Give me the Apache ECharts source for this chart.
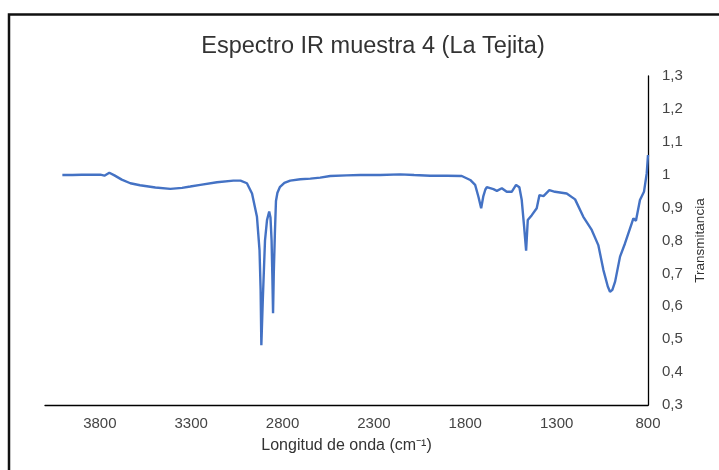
<!DOCTYPE html>
<html>
<head>
<meta charset="utf-8">
<script src="https://cdn.jsdelivr.net/npm/echarts@6/dist/echarts.min.js"></script>
<style>
html,body{margin:0;padding:0;background:#fff;}
#chart{width:719px;height:470px;}
</style>
</head>
<body>
<div id="chart"></div>
<script>
// Wavenumber (cm-1) and transmittance
const wavenumbers = [4005,3950,3900,3850,3797,3775,3748,3720,3680,3633,3580,3496,3414,3350,3305,3250,3159,3069,3030,2995,2967,2940,2926,2920,2916,2908,2896,2885,2873,2866,2860,2856,2852,2848,2842,2836,2828,2815,2790,2758,2703,2648,2594,2539,2450,2375,2266,2156,2080,1992,1900,1819,1773,1746,1728,1713,1701,1690,1682,1646,1627,1600,1573,1546,1522,1504,1491,1478,1467,1458,1436,1409,1394,1372,1340,1309,1245,1199,1154,1108,1072,1044,1020,1008,995,980,953,926,889,880,866,844,822,807,800];
const transmittance = [0.999,0.999,1.000,1.000,1.000,0.997,1.006,0.998,0.985,0.974,0.968,0.961,0.957,0.960,0.964,0.969,0.977,0.982,0.982,0.974,0.943,0.872,0.771,0.650,0.482,0.620,0.800,0.862,0.888,0.870,0.800,0.700,0.579,0.700,0.820,0.920,0.945,0.962,0.975,0.982,0.986,0.988,0.991,0.996,0.998,0.999,0.999,1.001,0.999,0.997,0.997,0.996,0.984,0.969,0.933,0.898,0.935,0.955,0.962,0.956,0.951,0.959,0.948,0.948,0.969,0.962,0.923,0.842,0.769,0.862,0.877,0.898,0.938,0.935,0.953,0.948,0.943,0.925,0.872,0.832,0.786,0.710,0.660,0.644,0.650,0.675,0.751,0.791,0.852,0.867,0.860,0.923,0.948,1.004,1.060];
const xTickLabels = [800,1300,1800,2300,2800,3300,3800];
const yTickLabels = ['0,3','0,4','0,5','0,6','0,7','0,8','0,9','1','1,1','1,2','1,3'];

const seriesData = wavenumbers.map((w, i) => [w, transmittance[i]]);
const chart = echarts.init(document.getElementById('chart'), null, {renderer: 'canvas'});
const FONT = '"Liberation Sans", Arial, sans-serif';

chart.setOption({
  animation: false,
  backgroundColor: '#ffffff',
  graphic: [{
    type: 'rect',
    shape: {x: 9, y: 14.5, width: 900, height: 700},
    style: {fill: 'none', stroke: '#111', lineWidth: 2.5},
    silent: true
  }],
  title: {
    text: 'Espectro IR muestra 4 (La Tejita)',
    left: 368,
    top: 30,
    textAlign: 'center',
    textStyle: {fontFamily: FONT, fontSize: 23.5, fontWeight: 'normal', color: '#333'}
  },
  grid: {left: 45, right: 71, top: 76, bottom: 65, containLabel: false},
  xAxis: {
    type: 'value',
    inverse: true,
    min: 800,
    max: 4100,
    interval: 500,
    name: 'Longitud de onda (cm⁻¹)',
    nameLocation: 'middle',
    nameGap: 33,
    nameTextStyle: {fontFamily: FONT, fontSize: 16, color: '#333'},
    axisLine: {show: true, lineStyle: {color: '#000', width: 1.3}},
    axisTick: {show: false},
    splitLine: {show: false},
    axisLabel: {
      margin: 11,
      fontFamily: FONT, fontSize: 15, color: '#444',
      formatter: v => xTickLabels.indexOf(v) >= 0 ? String(v) : ''
    }
  },
  yAxis: {
    type: 'value',
    position: 'right',
    min: 0.3,
    max: 1.3,
    interval: 0.1,
    name: 'Transmitancia',
    nameLocation: 'middle',
    nameRotate: 90,
    nameGap: 40,
    nameTextStyle: {fontFamily: FONT, fontSize: 13.5, color: '#333'},
    axisLine: {show: true, lineStyle: {color: '#000', width: 1.3}},
    axisTick: {show: false},
    splitLine: {show: false},
    axisLabel: {
      margin: 14,
      fontFamily: FONT, fontSize: 15, color: '#444',
      formatter: v => yTickLabels[Math.round((v - 0.3) * 10)] || ''
    }
  },
  series: [{
    type: 'line',
    data: seriesData,
    showSymbol: false,
    symbol: 'none',
    smooth: false,
    lineStyle: {color: '#4472C4', width: 2.4},
    silent: true
  }]
});
</script>
</body>
</html>
